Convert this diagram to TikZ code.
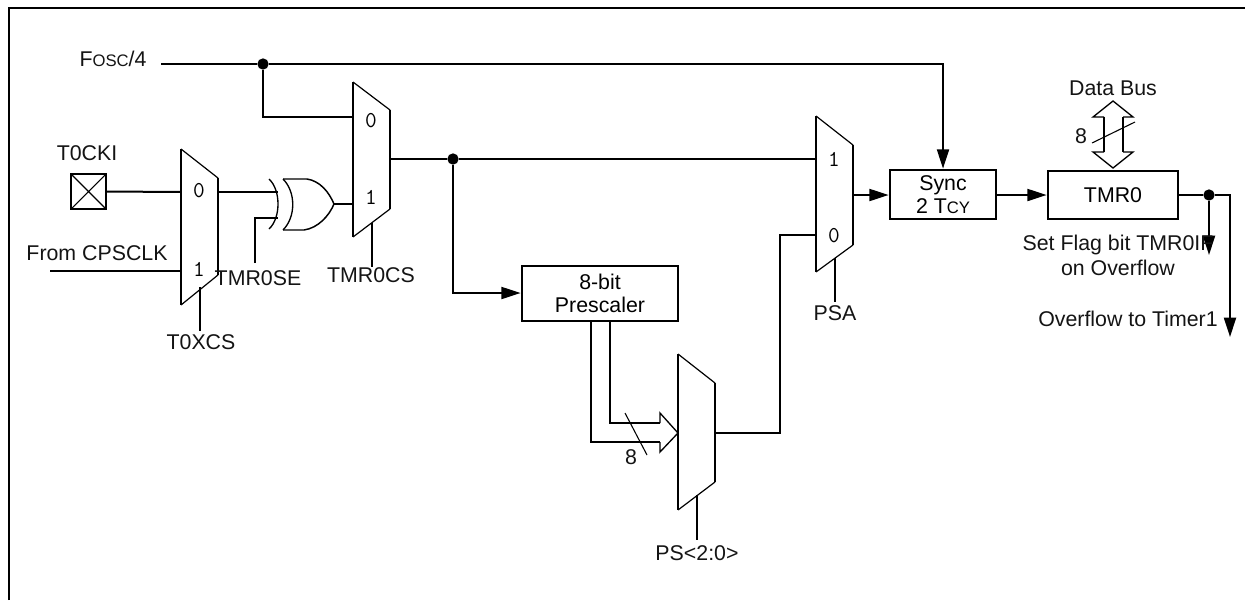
\documentclass[tikz,border=0pt]{standalone}
\usepackage{fontspec}
\setmainfont{Liberation Sans}
\usetikzlibrary{arrows.meta}
\newcommand{\smallcap}[1]{{\fontsize{12.5pt}{14pt}\selectfont #1}}
\tikzset{
  wire/.style={line width=1.5pt},
  thinline/.style={line width=0.8pt},
  arrowwire/.style={wire,-{Triangle[length=14.5pt,width=9pt]}},
  dotnode/.style={circle,fill=black,inner sep=0pt,minimum size=8.5pt},
  boxnode/.style={draw,line width=1.5pt,inner sep=0pt,outer sep=0pt,align=center,font=\fontsize{16pt}{18pt}\selectfont,anchor=north west},
  label/.style={inner sep=0pt,font=\fontsize{16pt}{18pt}\selectfont,text=black!92,align=center},
  muxdigit/.style={inner sep=0pt,font=\ttfamily\fontsize{17pt}{18pt}\selectfont,text=black},
  muxslant/.style={line width=0.9pt,line join=round},
  muxside/.style={line width=1.5pt},
  busline/.style={line width=1.5pt,line join=miter},
  bushead/.style={line width=1pt,line join=miter},
}
\begin{document}
\begin{tikzpicture}[x=0.75pt,y=-0.75pt]
\useasboundingbox (0,0) rectangle (1245,600);
% frame
\coordinate (fbl) at (9,600);
\coordinate (ftl) at (9,8);
\coordinate (ftr) at (1245,8);
\draw[line width=1.6pt] (fbl) -- (ftl) -- (ftr);

% mux 1
\coordinate (ma) at (181,149); \coordinate (mb) at (218,178);
\coordinate (mc) at (218,275); \coordinate (md) at (181,305);
\draw[muxslant] (ma) -- (mb) (mc) -- (md);
\draw[muxside] (ma) -- (md) (mb) -- (mc);
% mux 2
\coordinate (na) at (353,82); \coordinate (nb) at (390,110);
\coordinate (nc) at (390,209); \coordinate (nd) at (353,237);
\draw[muxslant] (na) -- (nb) (nc) -- (nd);
\draw[muxside] (na) -- (nd) (nb) -- (nc);
% mux 3
\coordinate (pa) at (816,116); \coordinate (pb) at (853,145);
\coordinate (pc) at (853,245); \coordinate (pd) at (816,272);
\draw[muxslant] (pa) -- (pb) (pc) -- (pd);
\draw[muxside] (pa) -- (pd) (pb) -- (pc);
% mux 4
\coordinate (qa) at (678,354); \coordinate (qb) at (715,383);
\coordinate (qc) at (715,482); \coordinate (qd) at (678,510);
\draw[muxslant] (qa) -- (qb) (qc) -- (qd);
\draw[muxside] (qa) -- (qd) (qb) -- (qc);

% boxes
\node[boxnode,minimum width=106*0.75pt,minimum height=49*0.75pt] (sync) at (890,170) {Sync\\[-1pt]2 T\smallcap{CY}};
\node[boxnode,minimum width=130*0.75pt,minimum height=48*0.75pt] (tmr) at (1048,171) {TMR0};
\node[boxnode,minimum width=156*0.75pt,minimum height=55*0.75pt] (presc) at (522,266) {8-bit\\[-1pt]Prescaler};
\node[draw,line width=1.5pt,outer sep=0pt,minimum width=35*0.75pt,minimum height=35*0.75pt,inner sep=0pt,anchor=north west] (pin) at (71,174) {};
\draw[thinline] (pin.north west) -- (pin.south east) (pin.north east) -- (pin.south west);

% dots
\node[dotnode] (dota) at (263,64) {};
\node[dotnode] (dotb) at (453,159) {};
\node[dotnode] (dotc) at (1209,195) {};

% Fosc
\coordinate (fstart) at (161,64);
\coordinate (fcorner) at (943,64);
\coordinate (m2in0) at (353,117);
\coordinate (dotadown) at (263,117);
\draw[wire] (fstart) -- (dota);
\draw[arrowwire,shorten >=1pt] (dota) -- (fcorner) -- (fcorner |- sync.north);
\draw[wire] (dota) -- (dotadown) -- (m2in0);

% T0CKI, CPSCLK, mux1
\coordinate (m1in0) at (181,192);
\coordinate (cpsstart) at (50,271);
\coordinate (m1in1) at (181,271);
\draw[wire] (pin.east) -- (m1in0);
\draw[wire] (cpsstart) -- (m1in1);
\coordinate (t0xtop) at (200,287); \coordinate (t0xbot) at (200,331);
\draw[wire] (t0xtop) -- (t0xbot);

% xor
\coordinate (xin1) at (278,192); \coordinate (xin2) at (278,218);
\coordinate (m1out) at (218,192);
\coordinate (tseb) at (255,263); \coordinate (tsec) at (255,218);
\draw[wire] (m1out) -- (xin1);
\draw[wire] (tseb) -- (tsec) -- (xin2);
\coordinate (xt1) at (269,179); \coordinate (xb1) at (269,229);
\coordinate (xt2) at (283,179); \coordinate (xb2) at (283,230);
\coordinate (xt3) at (307,179); \coordinate (xb3) at (304,230);
\coordinate (xtip) at (334,204);
\draw[line width=1pt] (xt1) .. controls (281,190) and (281,218) .. (xb1);
\draw[line width=1pt] (xt2) .. controls (296,192) and (296,217) .. (xb2);
\draw[line width=1.1pt] (xt2) -- (xt3) .. controls (320,181) and (329,192) .. (xtip)
   .. controls (329,216) and (318,228) .. (xb3) -- (xb2);
\coordinate (m2in1) at (353,204);
\draw[wire] (xtip) -- (m2in1);

% mux 2 control and output
\coordinate (tcstop) at (372,223); \coordinate (tcsbot) at (372,267);
\draw[wire] (tcstop) -- (tcsbot);
\coordinate (m2out) at (390,159); \coordinate (m3in1) at (816,159);
\draw[wire] (m2out) -- (dotb) -- (m3in1);
\coordinate (dotbdown) at (453,293);
\draw[arrowwire,shorten >=1pt] (dotb) -- (dotbdown) -- (dotbdown -| presc.west);

% bus prescaler -> mux4
\coordinate (bua) at (610,321); \coordinate (bub) at (610,423); \coordinate (buc) at (660,423);
\coordinate (bud) at (660,413); \coordinate (bue) at (678,433); \coordinate (buf) at (660,452);
\coordinate (bug) at (660,442); \coordinate (buh) at (591,442); \coordinate (bui) at (591,321);
\draw[busline] (bua) -- (bub) -- (buc);
\draw[busline] (bui) -- (buh) -- (bug);
\draw[bushead] (buc) -- (bud) -- (bue) -- (buf) -- (bug);
\coordinate (sla) at (625,413); \coordinate (slb) at (647,455);
\draw[thinline] (sla) -- (slb);

% mux 4 control, output
\coordinate (pstop) at (697,495); \coordinate (psbot) at (697,540);
\draw[wire] (pstop) -- (psbot);
\coordinate (m4out) at (715,433); \coordinate (m4c) at (780,433);
\coordinate (m4d) at (780,235); \coordinate (m3in0) at (816,235);
\draw[wire] (m4out) -- (m4c) -- (m4d) -- (m3in0);

% mux 3 control, output
\coordinate (psatop) at (835,258); \coordinate (psabot) at (835,302);
\draw[wire] (psatop) -- (psabot);
\coordinate (m3out) at (853,195);
\draw[arrowwire,shorten >=1pt] (m3out) -- (m3out -| sync.west);
\coordinate (syncout) at (996,195);
\draw[arrowwire,shorten >=1pt] (syncout) -- (syncout -| tmr.west);

% TMR0 output
\coordinate (tmrout) at (1178,195);
\coordinate (tipa) at (1209,255);
\coordinate (corner) at (1230,195);
\coordinate (tipb) at (1230,337);
\draw[wire] (tmrout) -- (dotc);
\draw[arrowwire] (dotc) -- (tipa);
\draw[arrowwire] (dotc) -- (corner) -- (tipb);

% data bus arrow
\coordinate (dba) at (1113,101); \coordinate (dbb) at (1133,117); \coordinate (dbc) at (1123,117);
\coordinate (dbd) at (1123,152); \coordinate (dbe) at (1133,152); \coordinate (dbf) at (1113,168);
\coordinate (dbg) at (1093,152); \coordinate (dbh) at (1104,152); \coordinate (dbi) at (1104,117);
\coordinate (dbj) at (1093,117);
\draw[bushead] (dbc) -- (dbb) -- (dba) -- (dbj) -- (dbi);
\draw[bushead] (dbd) -- (dbe) -- (dbf) -- (dbg) -- (dbh);
\draw[busline] (dbc) -- (dbd) (dbi) -- (dbh);
\coordinate (slc) at (1092,143); \coordinate (sld) at (1135,122);
\draw[thinline] (slc) -- (sld);

% digits
\node[muxdigit] (d10) at (199,191) {0};
\node[muxdigit] (d11) at (199,269) {1};
\node[muxdigit] (d20) at (371,121) {0};
\node[muxdigit] (d21) at (371,197) {1};
\node[muxdigit] (d31) at (834,159) {1};
\node[muxdigit] (d30) at (834,236) {0};

% labels
\node[label] (lfosc) at (113,59) {F\smallcap{OSC}/4};
\node[label] (lt0) at (87,153) {T0CKI};
\node[label] (lcps) at (97,253) {From CPSCLK};
\node[label] (lxcs) at (201,342) {T0XCS};
\node[label] (lse) at (258,278) {TMR0SE};
\node[label] (lcs) at (371,275) {TMR0CS};
\node[label] (lpsa) at (835,313) {PSA};
\node[label] (lps) at (697,553) {PS<2:0>};
\node[label] (l8a) at (631,457) {8};
\node[label] (l8b) at (1081,136) {8};
\node[label] (ldb) at (1113,88) {Data Bus};
\node[label] (lset) at (1118,245) {Set Flag bit TMR0IF};
\node[label] (lon) at (1118,268) {on Overflow};
\node[label] (lov) at (1128,319) {Overflow to Timer1};
\end{tikzpicture}
\end{document}
